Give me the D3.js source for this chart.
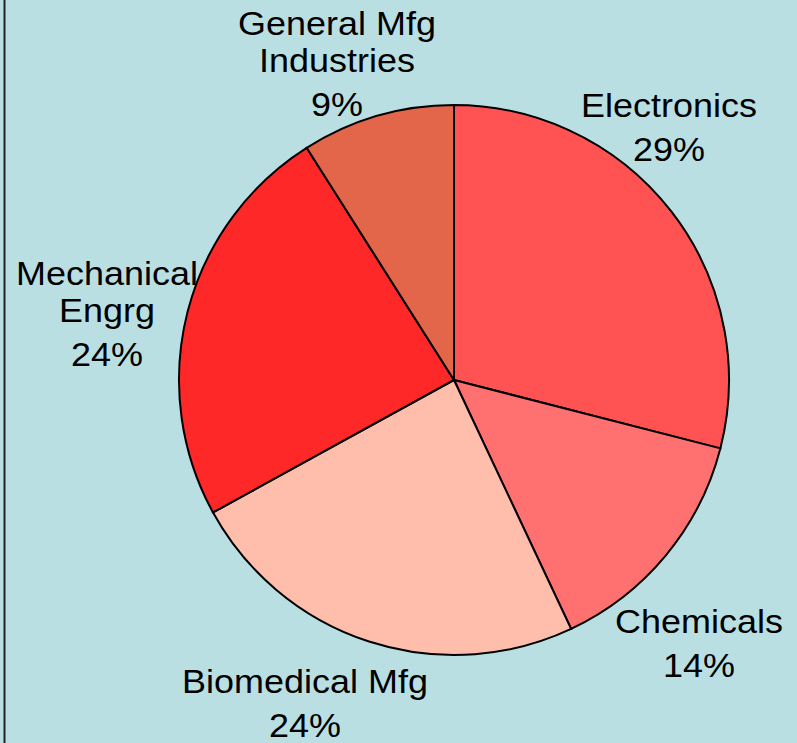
<!DOCTYPE html>
<html>
<head>
<meta charset="utf-8">
<script src="https://cdn.jsdelivr.net/npm/d3@7"></script>
<style>
  html, body { margin: 0; padding: 0; background: #b9dfe2; }
  svg { display: block; }
</style>
</head>
<body>
<div class="container"></div>
<script>
// data
const categories = ["Electronics", "Chemicals", "Biomedical Mfg", "Mechanical Engrg", "General Mfg Industries"];
const shares = [29, 14, 24, 24, 9];
const colors = ["#ff5252", "#ff7070", "#ffbdab", "#ff2828", "#e3664a"];

// category names split the way the chart wraps them
const nameLines = [
    ["Electronics"],
    ["Chemicals"],
    ["Biomedical Mfg"],
    ["Mechanical", "Engrg"],
    ["General Mfg", "Industries"]
];

// where each label block sits (centre x, first baseline y)
const labelAnchor = [[669, 117], [699, 633], [305, 693], [107, 285], [337, 35]];

const width = 797;
const height = 743;
const cx = 454;
const cy = 380;
const radius = 275;
const lineGap = 37;
const pctGap = 44;

const svg = d3.select(".container").append("svg")
    .attr("width", width)
    .attr("height", height);

svg.append("rect")
    .attr("width", width)
    .attr("height", height)
    .attr("fill", "#b9dfe2");

// left border line
svg.append("line")
    .attr("x1", 4.5).attr("x2", 4.5)
    .attr("y1", 0).attr("y2", height)
    .attr("stroke", "#222").attr("stroke-width", 2);

const pie = d3.pie().sort(null).value(d => d);
const arc = d3.arc().innerRadius(0).outerRadius(radius);

const g = svg.append("g").attr("transform", `translate(${cx},${cy})`);

g.selectAll("path")
    .data(pie(shares))
    .enter()
    .append("path")
    .attr("d", arc)
    .attr("fill", (d, i) => colors[i])
    .attr("stroke", "#000")
    .attr("stroke-width", 2);

const labels = svg.selectAll("text.label")
    .data(categories)
    .enter()
    .append("text")
    .attr("class", "label")
    .attr("text-anchor", "middle")
    .attr("transform", (d, i) => `translate(${labelAnchor[i][0]},0) scale(1.09,1)`)
    .attr("font-family", "'Liberation Sans', Arial, sans-serif")
    .attr("font-size", 33)
    .attr("fill", "#000");

labels.each(function(d, i) {
    const lines = nameLines[i];
    const base = labelAnchor[i][1];
    const t = d3.select(this);
    lines.forEach((line, j) => {
        t.append("tspan").attr("x", 0).attr("y", base + j * lineGap).text(line);
    });
    t.append("tspan")
        .attr("x", 0)
        .attr("y", base + (lines.length - 1) * lineGap + pctGap)
        .text(shares[i] + "%");
});
</script>
</body>
</html>
